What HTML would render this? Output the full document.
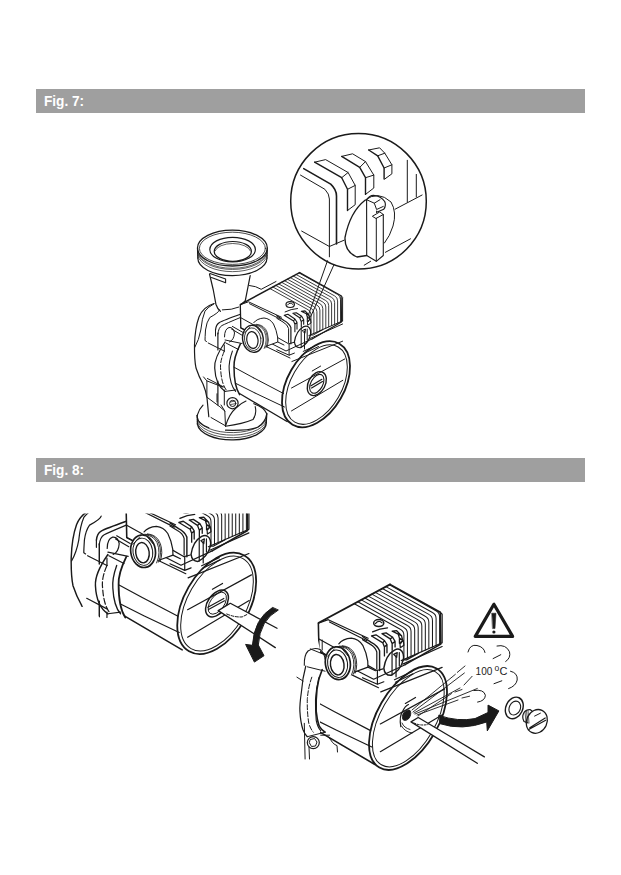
<!DOCTYPE html>
<html><head><meta charset="utf-8">
<style>
html,body{margin:0;padding:0;background:#fff;}
body{width:621px;height:875px;position:relative;overflow:hidden;font-family:"Liberation Sans",sans-serif;}
.bar{position:absolute;left:35.5px;width:549.5px;height:23.7px;background:#9f9f9f;}
.bar span{position:absolute;left:8px;top:4px;color:#fff;font-weight:bold;font-size:14.5px;line-height:16px;transform:scaleX(0.94);transform-origin:0 0;}
svg{position:absolute;left:0;top:0;}
</style></head><body>
<div class="bar" style="top:89.3px"><span>Fig. 7:</span></div>
<div class="bar" style="top:458px"><span>Fig. 8:</span></div>
<svg width="621" height="875" viewBox="0 0 621 875" fill="none" stroke="#1a1a1a" stroke-width="1" stroke-linecap="round" stroke-linejoin="round">
<defs>
<g id="p_top">
<ellipse cx="232.4" cy="248.1" rx="34.9" ry="17.9" stroke-width="1.3"/>
<ellipse cx="232.4" cy="248.3" rx="33" ry="16.1" stroke-width="0.8"/>
<path d="M197.5 248 L197.8 258 M267.3 248 L267 258" stroke-width="1.2"/>
<path d="M197.8 258 A34.6 17.6 0 0 0 267 258" stroke-width="1.2"/>
<path d="M197.7 253 A34.8 17.8 0 0 0 267.1 253" stroke-width="0.7"/>
<path d="M197.8 255.5 A34.8 17.8 0 0 0 267.1 255.5" stroke-width="0.7"/>
<path d="M197.6 250.5 A34.8 17.8 0 0 0 267.2 250.5" stroke-width="0.7"/>
<ellipse cx="232.6" cy="249.6" rx="22.8" ry="12.3" stroke-width="1.2"/>
<ellipse cx="232.8" cy="251.4" rx="18.6" ry="9.9" stroke-width="1.2"/>
<path d="M215 251 A18 9 0 0 1 250.5 251" stroke-width="0.7"/>
<path d="M209.5 274 L213.3 290 L215.9 304.2 Q217.5 309 220.4 311.3" stroke-width="1.2"/>
<path d="M250.2 275.6 L245.3 300.6 Q243 303 240.4 305" stroke-width="1.2"/>
<path d="M210 273.5 L225.6 279 L225.6 282.8 L211.5 277.5" stroke-width="1.1"/>
<path d="M222.3 309.9 Q232 310 238.8 307.1"/>
<path d="M249.5 285.5 Q256 286 261.2 289.3 L276 281.5"/>
</g>
<g id="p_volute">
<path d="M214 303.5 Q203 307 199 317 Q195 328 194.5 345 Q194.3 360 196 368 Q199 377 203 384 Q206 391 207 398 L208.8 416.7" stroke-width="1.2"/>
<path d="M213.9 303.9 Q208 307 205 311.1 Q202 318 200.8 330 Q199 340 194.8 347.4"/>
<path d="M219.5 310 Q219 312.5 209.8 317.5 Q206.5 322 205.5 330 Q205 338 205 340.5 L206.5 341.5"/>
</g>
<g id="p_box">
<path d="M240.6 304.4 L299.6 272.6" stroke-width="1.5"/>
<path d="M299.6 272.6 L341.1 295.7 L341.5 322 L312 339" stroke-width="1.3"/>
<path d="M240.3 304.7 L240.8 327.9 L262 339" stroke-width="1.3"/>
<path d="M240.3 304.7 L248.5 301.8 L281.4 317.2 M249.5 303.7 L280.4 319.2"/>
<path d="M270.0 288.6 L308.0 309.7 Q311.0 311.2 311.0 314.7 L311.0 334.6 M272.9 287.0 L310.9 308.2 Q313.9 309.7 313.9 313.2 L313.9 333.4 M275.8 285.4 L313.9 306.6 Q316.9 308.1 316.9 311.6 L316.9 332.1 M278.7 283.9 L316.9 305.1 Q319.9 306.6 319.9 310.1 L319.9 330.8 M281.6 282.3 L319.8 303.6 Q322.8 305.1 322.8 308.6 L322.8 329.5 M284.5 280.7 L322.8 302.0 Q325.8 303.5 325.8 307.0 L325.8 328.2 M287.4 279.2 L325.7 300.5 Q328.7 302.0 328.7 305.5 L328.7 326.9 M290.3 277.6 L328.6 299.0 Q331.6 300.5 331.6 304.0 L331.6 325.7 M293.2 276.0 L331.6 297.4 Q334.6 298.9 334.6 302.4 L334.6 324.4 M296.1 274.5 L334.6 295.9 Q337.6 297.4 337.6 300.9 L337.6 323.1 M299.0 272.9 L337.5 294.4 Q340.5 295.9 340.5 299.4 L340.5 321.8" stroke-width="0.85"/>
<path d="M341.1 295.7 L342.6 297.3 L342.6 320.9 M308.8 335.6 L342.6 320.9 M310 338.5 L342.6 324"/>
<ellipse cx="290.2" cy="304.6" rx="4.2" ry="2.9" stroke-width="1.2"/>
<path d="M287.5 305 Q290 301.5 293 304.5" />
<path d="M285.1 311.9 Q291 309 297.5 308.5"/>
<path d="M276.8 315.7 L284 320.5 Q289 323 290.9 327.5 L290.9 343.8" stroke-width="1.2"/>
<path d="M276.8 318.3 L283 322 Q287.5 324.5 288.6 328.5 L288.6 342.5"/>
<path d="M276.8 337.1 L288.6 343.8 L293.75 342.4 M289.1 343.75 L289.1 355.2 L294.4 353.1 M276.8 349.75 L289.1 355.2"/>
<path d="M284.25 315.3 L287.9 314.3 L294.9 319 L297 322.3 L297 329.1 M284.25 315.3 L293.6 321 L294.9 324.3 L294.9 331.75 M293.6 321 L294.9 319 M294.9 324.3 L297 322.3" stroke-width="1.1"/>
<path d="M292.9 313.3 L296.25 312.7 L301.7 316.3 L303.7 319.7 L303.7 324.3 M292.9 313.3 L299.7 317.7 L301.3 321.7 L301.3 327.1 M299.7 317.7 L301.7 316.3 M301.3 321.7 L303.7 319.7" stroke-width="1.1"/>
<path d="M301.3 311.25 L305 310.9 L309 315 L310 319 L308.3 321.3 M301.3 311.25 L306.3 313.7 L307.3 317 L307.3 321.3 M306.3 313.7 L309 315 M307.3 317 L310 319" stroke-width="1.1"/>
<path d="M294.4 341.8 Q296 331 303.2 326.9 Q306 325.5 307.8 326.6 Q311.5 329 310.5 335 Q308 344 300.4 347.75 Q295 348 294.4 341.8 Z" stroke-width="1.2"/>
<path d="M301.2 328 L301.2 347.5 M304.5 331 L304.5 349 M307.2 329 L307.2 340"/>
<path d="M302.5 330.5 L305.5 329 L305 333 Z"/>
<path d="M310.5 335 L313.2 335 L322.7 329.7"/>
<path d="M303.2 351.4 L317.8 344.6 M304 353.5 L318.5 346.5"/>
<path d="M307.7 320.9 L310.5 319 L311 323 L308 325 Z"/>
<path d="M291.9 361.5 L342.6 341.2"/>
</g>
<g id="p_nut">
<path d="M253.7 322.7 Q257 318.5 264 318 Q270 318.5 273.5 324 Q276.5 330 277.6 337 L277.8 342 L266.6 346.1 L256 346 Z" fill="#fff" stroke="none"/>
<path d="M253.7 322.7 Q257 318.5 264 318 Q270 318.5 273.5 324 Q276.5 330 277.6 337 L277.8 342 L266.6 346.1"/>
<path d="M277.8 342 L284 345"/>
<path d="M252 325 Q262 325 265.5 333 Q268.5 341 264.5 349 L256 351 Z" fill="#fff" stroke="none"/>
<path d="M252.1 325.1 Q261 324.5 264.5 331.5 Q268 340 264.2 348.5 M254.3 324.6 Q263 324.5 266 332 Q269 340 265.8 347.8 M256.5 324.3 Q264.5 324.8 267.3 332.5 Q269.8 340 267.2 347" stroke-width="0.75"/>
<ellipse cx="252.9" cy="338.8" rx="10.3" ry="13.6" transform="rotate(-8 252.9 338.8)" fill="#fff" stroke-width="1.4"/>
<ellipse cx="252.7" cy="339.2" rx="8.2" ry="11.4" transform="rotate(-8 252.7 339.2)" stroke-width="0.8"/>
<ellipse cx="252.4" cy="340" rx="5.6" ry="8.5" transform="rotate(-8 252.4 340)" stroke-width="1.2"/>
<path d="M244.5 333 L250 327 M257 327.5 L261.5 333" stroke-width="0.8"/>
</g>
<g id="p_cap">
<ellipse cx="316" cy="384.3" rx="28.5" ry="46.8" transform="rotate(30 316 384.3)" stroke-width="1.8"/>
<ellipse cx="316.5" cy="384.6" rx="25.3" ry="43.4" transform="rotate(30 316.5 384.6)" stroke-width="1"/>
</g>
<g id="p_cyl">
<path d="M208.2 343 L224.3 351.1 M234 367.2 L253.3 377.7 M207.4 378.5 L224.3 387.3 M235.6 383.3 L255 393 M265 346 L290 358 M253.3 377.7 L283.5 393.5 M255 393 L284.5 407" />
<path d="M239.5 393.5 L287 421.5" stroke-width="1.3"/>
<path d="M240.4 317.5 L255 325.6 M240.8 327.9 L286 351 L312 339"/>
<path d="M291.5 388 L344.7 359 M291.5 410.9 L342.8 380.3 M312.2 371 L320.6 366.1"/>
</g>
<g id="p_clamp">
<path d="M215.5 330 Q216 324.5 219.5 322.5 Q223 320.5 240.4 314.3" stroke-width="1.2"/>
<path d="M217.9 334 Q218.5 327.5 222 325.5 Q226 323.5 240.4 317.5"/>
<path d="M215.5 330 L215.5 336"/>
<path d="M217.9 333 L217.9 350 M217.9 381 L217.9 405" stroke-width="1.2"/>
<path d="M224.3 345 L224.3 351 M224.3 390 L224.3 405" stroke-width="1"/>
<path d="M225.1 342 Q214 358 214.7 368 Q215.5 385 225.1 391.4" stroke-width="1.2"/>
<path d="M224.3 351.1 Q219.5 362 220.7 370 Q221.5 384 226.7 390.6" stroke-dasharray="5 2"/>
<path d="M232.4 351.1 Q228.5 362 229.2 370 Q230 385 235.6 391.4" stroke-width="1.1"/>
<path d="M240.4 343.9 Q233.5 358 234 367 Q234 386 239.6 394.6" stroke-width="1.5"/>
<path d="M225.1 340 L242 343.5 M225.9 343 L238.5 349.5 M225.1 391.4 L235.6 390"/>
<path d="M224.5 336.9 Q224.5 329 229 327.5 Q233.5 327 234.5 333 Q234 340 229.5 342" />
<path d="M232.4 326.4 L243.6 332.8 M231.5 329 L242.5 335.5"/>
</g>
<g id="p_bottom">

<path d="M203.5 376.9 L206.9 380.9 L206.9 397.2 L219.9 406.8 L224.8 411 L225.5 426.2 M206.9 380.9 L222.7 387 M211 417.5 L224.8 425.4"/>
<path d="M217 393.8 L217 402 M221 405 L224.8 411"/>
<circle cx="232.5" cy="403.2" r="5.6" stroke-width="1.2"/>
<circle cx="232.7" cy="403.4" r="3.1"/>
<path d="M230.5 402 L235 401 M230.7 404.5 L235.3 403.7" stroke-width="0.7"/>
<path d="M225.5 426.2 Q229 414 236 408 Q241 403 246 401" stroke-width="1.1"/>
<path d="M225.5 426.2 Q243 424 253 419.6 Q257 414 255.2 406.6" stroke-width="1.1"/>
<path d="M197.2 415.3 Q199 409 203 405.1" stroke-width="1.2"/>
<path d="M253.8 403.7 Q264 407 266.8 413.8" stroke-width="1.2"/>
<path d="M197.2 415.3 L197.4 424 M266.8 413.8 L266.3 422.5" stroke-width="1.2"/>
<path d="M197.2 415.3 A34.8 15.5 0 0 0 208.8 427.8 M225.5 430.2 Q250 431 258 427 Q265.5 422 266.8 413.8" stroke-width="1.2"/>
<path d="M197.4 424 A34.5 17.2 0 0 0 266.3 422.5" stroke-width="1.4"/>
<path d="M197.3 417.5 A34.6 15.8 0 0 0 266.7 416 M197.3 419.6 A34.6 16.2 0 0 0 266.6 418.2 M197.3 421.8 A34.6 16.6 0 0 0 266.5 420.4" stroke-width="0.75"/>
</g>
<g id="pump"><use href="#p_top"/><use href="#p_volute"/><use href="#p_box"/><use href="#p_cyl"/><use href="#p_cap"/><use href="#p_nut"/><use href="#p_clamp"/><use href="#p_bottom"/></g>
<clipPath id="clipL"><path d="M55 513.5 L252 513.5 L300 560 L300 700 L200 668 L182 654 L121 624.5 L112 617.5 L101 618.5 L88 608 L55 602 Z"/></clipPath>
<clipPath id="clipR"><path d="M320 760 L320 650 L314 621 L388 577 L470 577 L470 800 L340 800 L345 762 Z"/></clipPath>
</defs>
<use href="#pump"/>
<g id="plug7">
<ellipse cx="316.8" cy="383.6" rx="8.4" ry="12.8" transform="rotate(28 316.8 383.6)" stroke-width="1.4"/>
<ellipse cx="316.8" cy="383.8" rx="6" ry="10.2" transform="rotate(28 316.8 383.8)" stroke-width="1.1"/>
<path d="M311 385.8 L321.9 379.3 M311.6 388 L322.5 381.6" stroke-width="1.2"/>
</g>
<g id="circ">
<circle cx="358.5" cy="201.3" r="67.8" stroke-width="1.5"/>

<path d="M300.5 175.1 L324.9 189.3 Q329.4 194 329.4 199 L329.4 256.8"/>
<path d="M303.7 168.6 L330.7 184.1 Q336.5 189.5 336.5 196 L336.5 244" stroke-width="1.6"/>
<path d="M301.7 231.1 L329.4 246.5 L344.3 240.1"/>

<path d="M314.6 162.2 L325.6 159.6 L348.1 172.5 L355.2 185.4 L355.2 204.7 L347.5 210.5"/>
<path d="M314.6 162.2 L341.7 177.7 L347.5 189.3 L347.5 210.5" stroke-width="1.4"/>
<path d="M341.7 177.7 L348.1 172.5 M347.5 189.3 L355.2 185.4"/>

<path d="M341.7 156.4 L352.6 153.8 L365.5 161.6 L373.8 175.1 L373.8 188 L365.5 194.4"/>
<path d="M341.7 156.4 L359.7 167.4 L365.5 177.7 L365.5 194.4" stroke-width="1.4"/>
<path d="M359.7 167.4 L365.5 161.6 M365.5 177.7 L373.8 175.1"/>

<path d="M368.7 150 L379.6 147.8 L384.8 153.2 L391.9 164.8 L391.9 173.8 L384.8 179"/>
<path d="M368.7 150 L377.7 155.8 L384.1 168 L384.1 179" stroke-width="1.4"/>
<path d="M377.7 155.8 L384.8 153.2 M384.1 168 L391.9 164.8"/>

<path d="M407.3 160.3 L407.3 202.1 M416.3 174.4 L416.3 197"/>
<path d="M395.1 209.2 L422.1 195"/>
<path d="M385.4 252.3 L410.5 238.8 M364.2 265.2 L370.6 261.3"/>

<path d="M365 200.2 Q378 190 391 202 Q397 212 393 226 Q390 236 384.5 243"/>
<path d="M365 200.2 Q350 212 345 237.5 Q344.5 252 357 257 L366.7 255.5" stroke-width="1.3"/>

<path d="M366.6 199.7 L366.7 255.5 L376.3 261.3 L383.3 255.5 L383.3 214.5" stroke-width="1.1"/>
<path d="M366.6 199.7 Q369.5 195.2 373.7 195.3 Q381 196 384.7 201.5 Q386.5 205.5 383.8 209.2 L376.6 212.3" stroke-width="1.2"/>
<path d="M366.6 199.7 L374.3 203.2 L376.6 209.5 L383.3 206.4 M374.3 203.2 L380 199.7"/>
<path d="M372.7 216.1 L379.8 211.9 L383.3 214.5 L376.3 218.3 Z M376.6 212.3 L376.6 211"/>
<path d="M376.3 218.3 L376.3 261.3"/>

<path d="M327.5 260.7 L307.7 317 M334 264.6 L310.5 317"/>
</g>
<g clip-path="url(#clipL)"><g transform="matrix(1.2 0 0 1.2 -162.2 144.1)"><use href="#p_volute"/><use href="#p_box"/><use href="#p_cyl"/><use href="#p_nut" transform="translate(1.5 0.5)"/><use href="#p_clamp"/></g></g>
<g clip-path="url(#clipR)"><g transform="matrix(1.21 0 0 1.21 27.6 254.5)"><use href="#p_box"/><use href="#p_cyl"/><use href="#p_nut" transform="translate(3.5 -1)"/></g></g>
<ellipse cx="408" cy="718" rx="30.6" ry="57.2" transform="rotate(30 408 718)" stroke-width="1.8"/>
<ellipse cx="408.3" cy="718.2" rx="27.4" ry="53.8" transform="rotate(30 408.3 718.2)" stroke-width="1"/>
<ellipse cx="216.7" cy="603.4" rx="32.5" ry="55.3" transform="rotate(30 216.7 603.4)" stroke-width="1.8"/>
<ellipse cx="217" cy="603.6" rx="29.3" ry="52" transform="rotate(30 217 603.6)" stroke-width="1"/>

<path d="M304.3 665.3 Q304 655 308 651 Q314 647 320 649.5 Q324.5 653 325.1 659.3" stroke-width="1.1"/>
<path d="M307.3 666.8 L325.1 671.2 M310.3 648.9 L325.1 654.9"/>
<path d="M305.8 666 Q302.5 678 301.4 692 Q299.5 705 299.9 711.4 Q300.5 722 302.8 729.2 Q304.5 734 307.3 736.7" stroke-width="1.2"/>
<path d="M311.8 677.2 Q308 688 307.3 699.5 Q307 712 308.8 723.3 Q310.5 729 313.3 732.2" stroke-dasharray="5 2"/>
<path d="M319.2 677.2 Q316 688 315.5 699.5 Q315.3 711 316.2 720.3 Q317.5 727 320.7 730.7" stroke-width="1.1"/>
<path d="M322.2 669.7 Q318 679 317 689.1 Q315.8 700 316.2 711.4 Q317 720 319.2 726.2 Q321.5 730 325.1 732.2" stroke-width="1.6"/>
<path d="M307.3 736.7 L325.1 732.2"/>
<circle cx="313.3" cy="742.6" r="6" stroke-width="1.2"/>
<path d="M310.5 739.5 L314.5 738.5 L317 742 L315.5 746 L311.5 746.5 L309.5 743 Z"/>
<path d="M328.1 736.7 Q331 740 332.6 742.6 Q335 745 337 745.6 L337.5 752 M320.7 735.2 L329.6 735.2"/>
<path d="M304.3 723.3 L305.1 759 M309 747 L309.5 759 M296.9 677.2 L303 681"/>
<path d="M322.2 640 L322.2 650"/>

<ellipse cx="217" cy="603.5" rx="9.2" ry="15" transform="rotate(35 217 603.5)" stroke-width="1.5"/>
<ellipse cx="217.3" cy="603.2" rx="7" ry="12.5" transform="rotate(35 217.3 603.2)" stroke-width="0.9"/>
<path d="M207.9 607.2 L223.8 598.5 M208.5 609.5 L224.5 600.8" stroke-width="1.2"/>
<path d="M218.2 610.6 L230.3 603.3 L277 628.6 L275.3 647.8 Z" fill="#fff" stroke="none"/>
<path d="M218.2 610.6 L230.3 603.3 L277 628.3 M218.2 610.6 L275.3 647.6" stroke-width="1.3"/>
<path d="M226.7 614 Q235 617.5 242.2 616.9 L248 614" stroke-dasharray="3 1.5"/>
<path d="M278 610.2 Q260 620 258.3 645 L264 655.7 L254.4 662.1 L245.6 644.4 L252.4 645.3 Q254 619 272.3 607.6 Z" fill="#1a1a1a"/>

<ellipse cx="406.6" cy="715.1" rx="3.6" ry="5.6" transform="rotate(30 406.6 715.1)" fill="#1a1a1a"/>
<path d="M400.8 726.7 Q399 716 402.7 711.3 Q405 706 408.5 704.5" stroke-width="1.2"/>
<path d="M402 723 Q404 728 410 729.5 M401.5 726 Q405 732 412 733" stroke-width="0.9"/>
<path d="M411 721.9 L418.2 717.5 L484.6 757 L477.5 763.6 Z" fill="#fff" stroke="none"/>
<path d="M411 721.9 L418.2 717.5 L455 739.3 L484.4 756.9 M411 721.9 L477.3 763.3" stroke-width="1.3"/>
<path d="M414 723 Q420 726 428 724.5" stroke-dasharray="2 1.5"/>
<path d="M412 710 L455.4 674.3 M457.3 672.4 L465 666 M413 712 L464.4 673 M414 713 L460 688 M464 685 L472.1 676.3 M415 714 L477.3 688.5 M417 715 L458 700 M462 698 L469.6 696.2 M418 716 L451.5 693.6 M455 692 L462 689.5" stroke-width="0.9"/>
<path d="M439 715.4 Q458 722 475 718.6 L488 712.5 L488 705.1 L498.9 710.9 L487.3 730.9 L486.7 722 Q462 731 440.3 723.8 Z" fill="#1a1a1a"/>

<path d="M493.9 604.3 L475.3 636.4 L512.6 636.4 Z" stroke-width="3.2" stroke-linejoin="round"/>
<path d="M491.9 613.2 L496 613.2 L495 628.6 L492.8 628.6 Z" fill="#1a1a1a" stroke-width="0.5"/>
<circle cx="493.9" cy="632" r="1.6" fill="#1a1a1a" stroke="none"/>

<path d="M468 652 Q470 644 477 645.5 Q484 647 485 652.5"/>
<path d="M497 646 Q506 644 509.5 651.8 Q511 658 505.7 661.5"/>
<path d="M510.5 671.2 Q518 673 517.2 680 Q516 686 508.6 688.6"/>
<path d="M473.8 690.5 Q484 689 485.4 695.3 Q485 701 477.6 702.1"/>
<path d="M493.1 658.6 L500.8 654.7 M494 683.7 L501.8 680.8"/>

<ellipse cx="514.3" cy="707.9" rx="8.4" ry="11.2" transform="rotate(25 514.3 707.9)" stroke-width="1.4"/>
<ellipse cx="514.8" cy="708.1" rx="5.5" ry="7.2" transform="rotate(25 514.8 708.1)" stroke-width="1.1"/>
<path d="M524 712.5 Q526 709.5 530 709.5 L532 711 M524 712.5 Q521.5 717 524 721.5 L528 723" stroke-width="1.2"/>
<path d="M525 711.5 L526 722 M526.5 710.8 L527.5 722.5 M528 710.3 L529 723" stroke-width="0.7"/>
<ellipse cx="536.8" cy="721.4" rx="10.2" ry="12.2" transform="rotate(25 536.8 721.4)" stroke-width="1.3"/>
<path d="M529.8 727.7 L545.2 718 M528.3 729.8 L545.7 720.3" stroke-width="1.2"/>
<path d="M534.6 716.1 L540.4 713.2"/>
<g font-family="Liberation Sans" fill="#1c1c1c" stroke="none"><text x="475.6" y="675.4" font-size="11px" textLength="16.8" lengthAdjust="spacingAndGlyphs">100</text><text x="494.4" y="671" font-size="8.5px">o</text><text x="499.4" y="675.4" font-size="11px">C</text></g>
</svg>
</body></html>
